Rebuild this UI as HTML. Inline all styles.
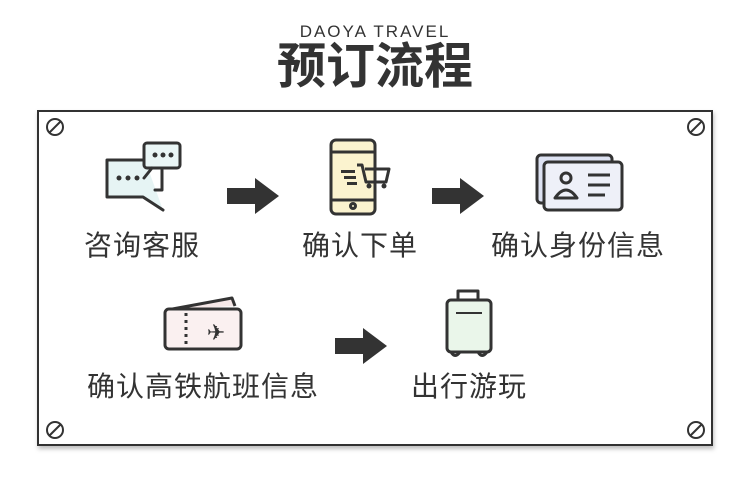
<!DOCTYPE html>
<html><head><meta charset="utf-8"><style>
html,body{margin:0;padding:0;background:#fff;width:750px;height:480px;overflow:hidden}
svg{display:block}
text{font-family:"Liberation Sans","Noto Sans CJK SC",sans-serif;fill:#333}
</style></head><body>
<svg width="750" height="480" viewBox="0 0 750 480">
<defs><filter id="sh" x="-5%" y="-5%" width="110%" height="115%"><feDropShadow dx="1" dy="3" stdDeviation="2" flood-color="#000" flood-opacity="0.25"/></filter></defs>
<text x="375" y="37" text-anchor="middle" font-size="17" letter-spacing="2" fill="#333">DAOYA TRAVEL</text>
<text x="375" y="83" text-anchor="middle" font-size="49" font-weight="bold" fill="#2a2a2a" font-family="'Noto Sans CJK SC',sans-serif">预订流程</text>
<rect x="38" y="111" width="674" height="334" fill="#fff" stroke="#333" stroke-width="2" filter="url(#sh)"/>
<g fill="none" stroke="#333" stroke-width="2">
<circle cx="55" cy="127" r="8"/><line x1="49" y1="133" x2="61" y2="121"/>
<circle cx="696" cy="127" r="8"/><line x1="690" y1="133" x2="702" y2="121"/>
<circle cx="55" cy="430" r="8"/><line x1="49" y1="436" x2="61" y2="424"/>
<circle cx="696" cy="430" r="8"/><line x1="690" y1="436" x2="702" y2="424"/>
</g>
<g fill="#333">
<polygon points="227,188 255,188 255,178 279,196 255,214 255,204 227,204"/>
<polygon points="432,188 460,188 460,178 484,196 460,214 460,204 432,204"/>
<polygon points="335,338 363,338 363,328 387,346 363,364 363,354 335,354"/>
</g>
<g stroke="#333" stroke-width="3" fill="#eaf6f6" stroke-linecap="round" stroke-linejoin="round">
<path d="M145,160 h-38 v37 h36 l20,13" fill="#e6f4f4"/>
<path d="M155,190 h7 v-20" fill="none"/>
<rect x="144" y="143" width="36" height="25" rx="3"/>
<path d="M152,168 l-8,10"/>
</g>
<g fill="#333"><circle cx="119" cy="178" r="2.5"/><circle cx="128" cy="178" r="2.5"/><circle cx="137" cy="178" r="2.5"/>
<circle cx="155" cy="155" r="2.5"/><circle cx="163" cy="155" r="2.5"/><circle cx="171" cy="155" r="2.5"/></g>
<g stroke="#333" stroke-width="3" fill="#fbf3cf" stroke-linejoin="round">
<rect x="331" y="140" width="44" height="74" rx="5"/>
<line x1="331" y1="152" x2="375" y2="152"/><line x1="331" y1="200" x2="375" y2="200"/>
<circle cx="353" cy="206" r="2.5" fill="none"/>
<path d="M357,165 h5 l4,17 h20 l3,-13 h-24" fill="none"/>
</g>
<g fill="#333"><rect x="341" y="170" width="14" height="3"/><rect x="344" y="176" width="12" height="3"/><rect x="347" y="182" width="10" height="3"/>
<circle cx="369" cy="186" r="2.5"/><circle cx="384" cy="186" r="2.5"/></g>
<g stroke="#333" stroke-width="3" stroke-linejoin="round">
<rect x="537" y="155" width="75" height="48" rx="4" fill="#dde2f2"/>
<rect x="544" y="162" width="78" height="48" rx="4" fill="#eef0f8"/>
<circle cx="566" cy="178" r="5" fill="none"/>
<path d="M555,198 q11,-16 22,0 z" fill="none"/>
<line x1="588" y1="175" x2="610" y2="175"/><line x1="588" y1="185" x2="610" y2="185"/><line x1="588" y1="195" x2="605" y2="195"/>
</g>
<g stroke="#333" stroke-width="3" stroke-linejoin="round">
<path d="M167,310 l65,-12 l3,8" fill="#f6e8e8"/>
<rect x="165" y="309" width="76" height="40" rx="4" fill="#faf0f0"/>
<line x1="186" y1="313" x2="186" y2="345" stroke-dasharray="3,4"/>
</g>
<text x="216" y="340" text-anchor="middle" font-size="22" fill="#333" font-family="'DejaVu Sans',sans-serif">✈</text>
<g stroke="#333" stroke-width="3" stroke-linejoin="round">
<rect x="458" y="291" width="20" height="10" fill="none"/>
<rect x="447" y="300" width="44" height="52" rx="4" fill="#eaf6ea"/>
<line x1="456" y1="313" x2="482" y2="313" stroke-width="2"/>
<path d="M451,352 q4,7 9,0 M478,352 q4,7 9,0" fill="none"/>
</g>
<g font-size="28" text-anchor="middle" letter-spacing="1">
<text x="142" y="255">咨询客服</text>
<text x="360" y="255">确认下单</text>
<text x="578" y="255">确认身份信息</text>
<text x="203" y="396">确认高铁航班信息</text>
<text x="469" y="396">出行游玩</text>
</g>
</svg>
</body></html>
